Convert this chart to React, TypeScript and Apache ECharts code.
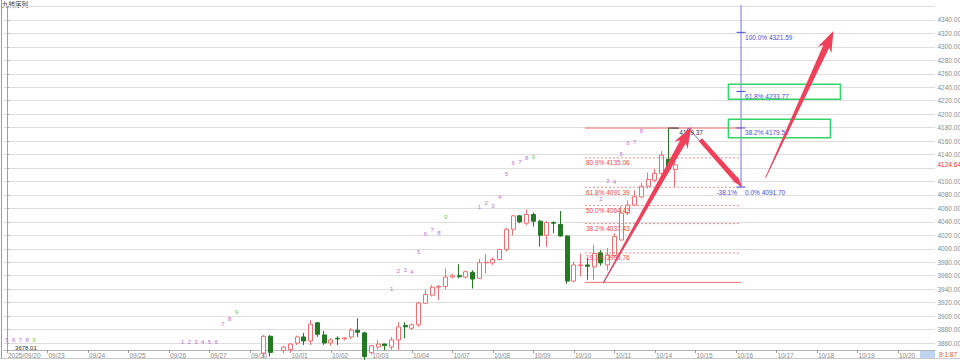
import React, { useEffect, useRef } from 'react';
import * as echarts from 'echarts';

// ---------- data ----------
const dateLabels = ['2025/09/20', '09/23', '09/24', '09/25', '09/26', '09/27', '09/30', '10/01', '10/02', '10/03', '10/04', '10/07', '10/08', '10/09', '10/10', '10/11', '10/14', '10/15', '10/16', '10/17', '10/18', '10/19', '10/20'];
const barsPerLabel = 6;
const totalSlots = 138;

const priceTicks = [3860, 3880, 3900, 3920, 3940, 3960, 3980, 4000, 4020, 4040, 4060, 4080, 4100, 4120, 4140, 4160, 4180, 4200, 4220, 4240, 4260, 4280, 4300, 4320, 4340];

const firstCandle = 38;
const candleOpen = [3845, 3870, 3842, 3849, 3850, 3860, 3869, 3863, 3890, 3872, 3860, 3867, 3866, 3869, 3879, 3875, 3846, 3854, 3858.5, 3854, 3864.5, 3886, 3882, 3887, 3919, 3931, 3943, 3944, 3958, 3960, 3958, 3965, 3956, 3979, 3979, 3984, 3999, 4029, 4049, 4038, 4051, 4041, 4020, 4039, 4036, 4019, 3952, 3975, 3976, 3973, 3994, 3976, 3990, 4013, 4053, 4065, 4077, 4093, 4102, 4112, 4133, 4118];
const candleClose = [3870, 3846, 3848, 3854, 3858.5, 3869, 3863, 3888, 3873, 3860, 3864.5, 3866, 3867.5, 3879, 3876, 3840, 3856, 3858.5, 3856, 3864.5, 3884, 3884, 3887, 3919.5, 3932, 3943, 3944, 3958, 3960, 3958.5, 3966, 3955, 3979.5, 3980, 3984, 3999, 4029, 4049, 4040, 4051, 4041, 4020, 4039, 4038, 4019, 3952, 3976, 3976, 3974, 3993, 3979, 3991, 4018, 4053, 4065, 4077.5, 4093, 4103, 4112, 4139, 4118, 4124.64];
const candleLow = [3838, 3840, 3836, 3845, 3846, 3857, 3857, 3857, 3869, 3857, 3855.6, 3857, 3864, 3866, 3869, 3835, 3843, 3850, 3849, 3850, 3850, 3867, 3879, 3884, 3918, 3929, 3924, 3940, 3956, 3956, 3956, 3941, 3955, 3963, 3976, 3983, 3996, 4020, 4038, 4035, 4033, 4003, 4003, 4023, 4018, 3948, 3950, 3959, 3954, 3954, 3975, 3968, 3988, 4013, 4050, 4064, 4075, 4090, 4099, 4110, 4114, 4092];
const candleHigh = [3872, 3872, 3849, 3856, 3860, 3871, 3875, 3894, 3891, 3878, 3867.5, 3870, 3869, 3882, 3897, 3877, 3857, 3864, 3859, 3869, 3891, 3891, 3889, 3921, 3939, 3946, 3946, 3971, 3963, 3977, 3968, 3968, 3985, 3992, 3987, 4000, 4031, 4050, 4050, 4058.5, 4054, 4043, 4041, 4041, 4056, 4020, 3981, 3993, 3986, 4006, 3998, 4001, 4023, 4063, 4072, 4087, 4098, 4113, 4119, 4145, 4179.37, 4131];

// nine-turn (TD) sequence numbers
const tdIndex = [0, 1, 2, 3, 4, 26, 27, 28, 29, 30, 31, 32, 33, 34, 57, 58, 59, 60, 61, 62, 63, 64, 65, 70, 71, 72, 73, 74, 75, 76, 77, 78, 88, 89, 90, 91, 92, 93, 94];
const tdText = ['5', '6', '7', '8', '9', '1', '2', '3', '4', '5', '6', '7', '8', '9', '1', '2', '3', '4', '5', '6', '7', '8', '9', '1', '2', '3', '4', '5', '6', '7', '8', '9', '2', '3', '4', '5', '6', '7', '8'];
const tdPrice = [3864.5, 3864.5, 3864.5, 3864.5, 3864.5, 3862, 3862, 3862, 3862, 3862, 3862, 3887.5, 3895, 3905.4, 3940.3, 3966.3, 3967.8, 3965.5, 3995.2, 4021.6, 4027.5, 4024, 4047.7, 4062.6, 4068.5, 4064.1, 4076.9, 4111.1, 4127.5, 4129, 4134.9, 4136.4, 4073.5, 4100.7, 4099.2, 4140.4, 4156.7, 4159.1, 4175];

// fibonacci retracement (red)
const retrPct = ['19.1%', '38.2%', '50.0%', '61.8%', '80.9%'];
const retrPrice = [3993.76, 4037.43, 4064.42, 4091.39, 4135.06];
const retrBounds = [3950.09, 4179.37];
const retrX = [85.64, 108.76];

// fibonacci extension (blue)
const extPct = ['0.0%', '38.2%', '61.8%', '100.0%'];
const extPrice = [4091.7, 4179.52, 4233.77, 4321.59];
const extNeg = '-38.1%';
const extX = 108.76;
const extTop = 4362;
const abcX = [88.36, 100.95, 108.76];
const abcPrice = [3949.5, 4179.37, 4091.7];

// target boxes (green)
const boxX0 = [106.89, 106.89];
const boxX1 = [123.49, 122.0];
const boxTop = [4244.5, 4192.4];
const boxBottom = [4222.2, 4165.1];

// arrows
const arrowFromX = [88.36, 102.74, 112.37];
const arrowFromP = [3949.5, 4162, 4105];
const arrowToX = [101.4, 108.9, 122.45];
const arrowToP = [4181, 4092.6, 4323.7];

const highLabel = '4179.37';
const lowLabel = '3678.01';
const lastPrice = 4124.64;
const clockText = '8:1:87';

const FONT = '"Liberation Sans", Arial, sans-serif';

function arrowPoints(t: number[], h: number[], w0: number, w1: number, hl: number, hw: number) {
  const dx = h[0] - t[0];
  const dy = h[1] - t[1];
  const L = Math.hypot(dx, dy);
  const ux = dx / L, uy = dy / L;
  const nx = -uy, ny = ux;
  const bx = h[0] - ux * hl, by = h[1] - uy * hl;
  const sx = bx - ux * 4, sy = by - uy * 4;
  return [
    [t[0] + nx * w0, t[1] + ny * w0],
    [bx + nx * w1, by + ny * w1],
    [sx + nx * hw, sy + ny * hw],
    [h[0], h[1]],
    [sx - nx * hw, sy - ny * hw],
    [bx - nx * w1, by - ny * w1],
    [t[0] - nx * w0, t[1] - ny * w0],
  ];
}

export default function App() {
  const ref = useRef<HTMLDivElement>(null);
  useEffect(() => {
    if (!ref.current) return;
    const chart = echarts.init(ref.current, undefined, { renderer: 'svg' });

    const categories: string[] = [];
    for (let i = 0; i < totalSlots; i++) {
      const d = dateLabels[Math.floor(i / barsPerLabel)] || '';
      categories.push(d + '#' + i);
    }
    const candleData = candleOpen.map((o, k) => [firstCandle + k, o, candleClose[k], candleLow[k], candleHigh[k]]);

    const red = '#e84a4a';
    const blue = '#4b4bdc';
    const renderDrawings = (params: any, api: any) => {
      const P = (v: number, p: number) => api.coord([v, p]);
      const ch: any[] = [];
      const txt = (x: number, y: number, text: string, fill: string, align = 'left', va = 'top', size = 6.5) => ({
        type: 'text', x, y, silent: true,
        style: { text, fill, fontSize: size, fontFamily: FONT, align, verticalAlign: va },
      });
      const line = (a: number[], b: number[], stroke: string, w = 1, dash?: number[]) => ({
        type: 'line', silent: true,
        shape: { x1: a[0], y1: a[1], x2: b[0], y2: b[1] },
        style: { stroke, lineWidth: w, lineDash: dash },
      });
      // price axis labels (the one nearest the last price is replaced by it)
      const lpPix = P(totalSlots - 0.5, lastPrice);
      priceTicks.forEach((pr) => {
        const a = P(totalSlots - 0.5, pr);
        if (Math.abs(a[1] - lpPix[1]) < 7) return;
        ch.push(txt(a[0] + 2.5, a[1], pr.toFixed(2), '#8a8a8a', 'left', 'middle'));
      });
      ch.push(txt(lpPix[0] + 2.5, lpPix[1], lastPrice.toFixed(2), '#e83030', 'left', 'middle'));
      // TD numbers
      tdIndex.forEach((v, k) => {
        const p = P(v, tdPrice[k]);
        ch.push(txt(p[0], p[1], tdText[k], tdText[k] === '9' ? '#5ccc5c' : '#c070d4', 'center', 'middle', 6));
      });
      // red retracement
      retrBounds.forEach((pr) => ch.push(line(P(retrX[0], pr), P(retrX[1], pr), '#f07070', 1)));
      retrPrice.forEach((pr, k) => {
        ch.push(line(P(retrX[0], pr), P(retrX[1], pr), '#f07070', 0.8, [2, 2]));
        const a = P(retrX[0] + 0.15, pr);
        ch.push(txt(a[0], a[1] + 1.5, retrPct[k] + ' ' + pr.toFixed(2), red));
      });
      // blue ABC lines
      for (let k = 0; k < 2; k++) ch.push(line(P(abcX[k], abcPrice[k]), P(abcX[k + 1], abcPrice[k + 1]), blue, 0.8));
      // vertical extension line
      ch.push(line(P(extX, extPrice[0]), P(extX, extTop), '#7070f0', 1));
      extPrice.forEach((pr, k) => {
        const a = P(extX, pr);
        ch.push(line([a[0] - 4.5, a[1]], [a[0] + 4.5, a[1]], blue, 1));
        ch.push(txt(a[0] + 4, a[1] + 1.5, extPct[k] + ' ' + pr.toFixed(2), blue));
      });
      const c0 = P(extX, extPrice[0]);
      ch.push(txt(c0[0] - 4, c0[1] + 1.5, extNeg, blue, 'right'));
      // green boxes
      boxX0.forEach((x0, k) => {
        const a = P(x0, boxTop[k]);
        const b = P(boxX1[k], boxBottom[k]);
        ch.push({ type: 'rect', silent: true, shape: { x: a[0], y: a[1], width: b[0] - a[0], height: b[1] - a[1] }, style: { fill: 'none', stroke: '#33d46a', lineWidth: 1.5 } });
      });
      // high / low markers
      const h0 = P(98, retrBounds[1]);
      const h1 = P(99.55, retrBounds[1]);
      ch.push(line(h0, h1, '#333', 1));
      ch.push(txt(h1[0] + 0.5, h1[1] + 1, highLabel, '#1f2a55'));
      const lo = P(1.2, 3849.6);
      ch.push(txt(lo[0], lo[1] + 0.5, lowLabel, '#333', 'left', 'bottom', 6));
      // arrows
      const spec = [[0.4, 3.2, 17, 7.5], [2.2, 2.6, 9, 4.5], [0.4, 3.2, 17, 7.5]];
      arrowFromX.forEach((fx, k) => {
        const t = P(fx, arrowFromP[k]);
        const h = P(arrowToX[k], arrowToP[k]);
        ch.push({ type: 'polygon', silent: true, shape: { points: arrowPoints(t, h, spec[k][0], spec[k][1], spec[k][2], spec[k][3]) }, style: { fill: '#f0415a' } });
      });
      return { type: 'group', children: ch };
    };

    chart.setOption({
      animation: false,
      backgroundColor: '#ffffff',
      grid: { left: 3.6, right: 25, top: 6.5, bottom: 12, outerBoundsMode: 'none' } as any,
      xAxis: [
        {
          type: 'category',
          data: categories,
          boundaryGap: true,
          axisLine: { lineStyle: { color: '#b5b5b5' } },
          axisTick: { show: true, interval: barsPerLabel - 1, alignWithLabel: true, length: 3, lineStyle: { color: '#999' } },
          axisLabel: {
            interval: barsPerLabel - 1,
            fontSize: 6.5,
            fontFamily: FONT,
            color: '#8a8a8a',
            align: 'left',
            margin: 2,
            padding: [0, 0, 0, 1],
            formatter: (v: string) => v.split('#')[0],
          },
          splitLine: { show: false },
        },
        { type: 'value', min: -0.5, max: totalSlots - 0.5, show: false },
      ],
      yAxis: {
        type: 'value',
        position: 'right',
        min: 3849.6,
        max: 4360,
        splitNumber: 25,
        axisLine: { show: true, lineStyle: { color: '#a0a0a0' } },
        axisTick: { show: true, length: 2, lineStyle: { color: '#a0a0a0' } },
        axisLabel: { show: false },
        splitLine: { show: true, lineStyle: { color: '#dedede', width: 1 } },
      },
      series: [
        {
          type: 'candlestick',
          xAxisIndex: 0,
          yAxisIndex: 0,
          data: candleData,
          encode: { x: 0, y: [1, 2, 3, 4] },
          barWidth: 4.6,
          clip: true,
          itemStyle: { color: '#ffffff', color0: '#237a23', borderColor: '#ee7070', borderColor0: '#237a23', borderWidth: 1 },
        },
        {
          type: 'custom',
          xAxisIndex: 1,
          yAxisIndex: 0,
          clip: false,
          silent: true,
          data: [[0, 4000]],
          renderItem: renderDrawings,
          z: 5,
        },
      ],
      graphic: [
        { type: 'line', shape: { x1: 1.5, y1: 0, x2: 1.5, y2: 358 }, style: { stroke: '#9a9a9a', lineWidth: 1 }, silent: true },
        { type: 'line', shape: { x1: 0, y1: 358.5, x2: 960, y2: 358.5 }, style: { stroke: '#c8c8c8', lineWidth: 1 }, silent: true },
        { type: 'text', x: 2, y: 1, style: { text: '九转序列', fontSize: 6.5, fontFamily: '"Noto Sans CJK SC", sans-serif', fill: '#333' }, silent: true },
        { type: 'rect', shape: { x: 920, y: 351, width: 15, height: 7 }, style: { fill: '#bcd6f2' }, silent: true },
        { type: 'text', x: 939, y: 351, style: { text: clockText, fontSize: 6.5, fontFamily: FONT, fill: '#e0602a' }, silent: true },
      ],
    });
    return () => chart.dispose();
  }, []);
  return <div ref={ref} style={{ width: 960, height: 362, position: 'absolute', left: 0, top: 0 }} />;
}
